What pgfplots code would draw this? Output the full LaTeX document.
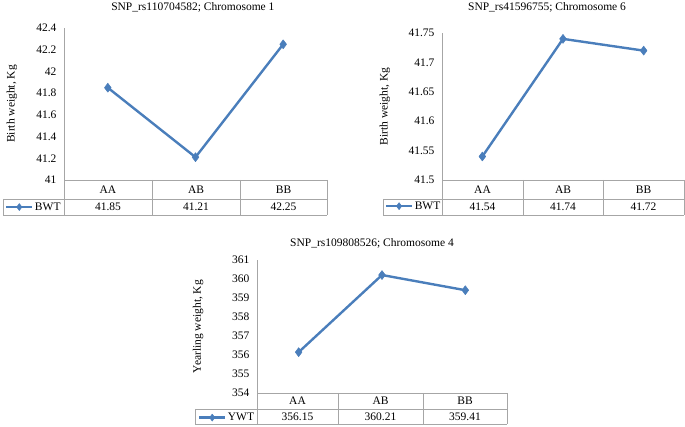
\documentclass[border=0pt]{standalone}
\usepackage{fontspec}
\setmainfont{Liberation Serif}
\usepackage{pgfplots}
\pgfplotsset{compat=1.18}
\definecolor{blueline}{RGB}{74,126,187}
\definecolor{gridc}{RGB}{166,166,166}
\newcommand{\fs}{\fontsize{11.5}{13}\selectfont}
\pgfplotsset{
  serstyle/.style={color=blueline, line width=2.4pt, line join=round,
      mark=diamond*, mark size=4.5pt, mark options={solid, fill=blueline, line width=0.5pt}},
  excel/.style={
    scale only axis, anchor=south west,
    xmin=0, xmax=3, xtick=\empty,
    axis x line=none, axis y line=left,
    axis line style={draw=gridc, line width=0.8pt, -},
    major tick length=0pt,
    ytick style={draw=none},
    tick label style={font=\fs},
    yticklabel style={xshift=-4pt},
    /pgf/number format/assume math mode=true,
    /pgf/number format/fixed,
    /pgf/number format/precision=2,
    label style={font=\fs},
    ylabel style={anchor=center, rotate=0},
    title style={font=\fs, anchor=center},
    clip=false,
    legend style={draw=none, fill=none, inner sep=0pt, outer sep=0pt, anchor=west, font=\fs,
      nodes={inner sep=1.5pt}},
    legend image code/.code={\draw[##1,mark repeat=2,mark phase=2,mark size=3.5pt] plot coordinates {(0pt,0pt) (13pt,0pt) (26pt,0pt)};},
  }
}
\begin{document}
\begin{tikzpicture}[x=1pt,y=1pt]
\useasboundingbox (0,0) rectangle (685,427);
% ---------- Chart 1 ----------
\begin{axis}[excel, at={(64pt,247pt)}, width=263pt, height=152pt,
  ymin=41, ymax=42.4, ytick={41,41.2,41.4,41.6,41.8,42,42.2,42.4},
  ylabel={Birth weight, Kg},
  ylabel style={at={(axis description cs:-0.198,0.5)}},
  title={SNP\_rs110704582; Chromosome 1},
  title style={at={(axis description cs:0.49,1)}, yshift=15pt},
  legend style={at={(axis description cs:-0.224,-0.178)}}]
\addplot[serstyle] coordinates {(0.5,41.85) (1.5,41.21) (2.5,42.25)};
\addlegendentry{BWT}
\end{axis}
\begin{scope}[draw=gridc, line width=0.8pt]
\draw (64,247) -- (327,247);
\draw (3,228) -- (327,228);
\draw (3,212) -- (327,212);
\draw (3,228) -- (3,212);
\draw (64,247) -- (64,212);
\draw (152,247) -- (152,212);
\draw (240,247) -- (240,212);
\draw (327,247) -- (327,212);
\end{scope}
\begin{scope}[every node/.style={font=\fs, inner sep=0pt}]
\node at (108,237.5) {AA};
\node at (196,237.5) {AB};
\node at (283.5,237.5) {BB};
\node at (108,220) {41.85};
\node at (196,220) {41.21};
\node at (283.5,220) {42.25};
\end{scope}
% ---------- Chart 2 ----------
\begin{axis}[excel, at={(442pt,247pt)}, width=242pt, height=147pt,
  ymin=41.5, ymax=41.75, ytick={41.5,41.55,41.6,41.65,41.7,41.75},
  ylabel={Birth weight, Kg},
  ylabel style={at={(axis description cs:-0.236,0.5)}},
  title={SNP\_rs41596755; Chromosome 6},
  title style={at={(axis description cs:0.434,1)}, yshift=20pt},
  legend style={at={(axis description cs:-0.236,-0.178)}}]
\addplot[serstyle] coordinates {(0.5,41.54) (1.5,41.74) (2.5,41.72)};
\addlegendentry{BWT}
\end{axis}
\begin{scope}[draw=gridc, line width=0.8pt]
\draw (442,247) -- (684,247);
\draw (383,228) -- (684,228);
\draw (383,212) -- (684,212);
\draw (383,228) -- (383,212);
\draw (442,247) -- (442,212);
\draw (523,247) -- (523,212);
\draw (603,247) -- (603,212);
\draw (684,247) -- (684,212);
\end{scope}
\begin{scope}[every node/.style={font=\fs, inner sep=0pt}]
\node at (482.5,237.5) {AA};
\node at (563,237.5) {AB};
\node at (643.5,237.5) {BB};
\node at (482.5,220) {41.54};
\node at (563,220) {41.74};
\node at (643.5,220) {41.72};
\end{scope}
% ---------- Chart 3 ----------
\begin{axis}[excel, at={(257pt,34pt)}, width=250pt, height=133pt,
  ymin=354, ymax=361, ytick={354,355,356,357,358,359,360,361},
  ylabel={Yearling weight, Kg},
  ylabel style={at={(axis description cs:-0.236,0.5)}},
  title={SNP\_rs109808526; Chromosome 4},
  title style={at={(axis description cs:0.46,1)}, yshift=11pt},
  legend style={at={(axis description cs:-0.236,-0.185)}}]
\addplot[serstyle] coordinates {(0.5,356.15) (1.5,360.21) (2.5,359.41)};
\addlegendentry{YWT}
\end{axis}
\begin{scope}[draw=gridc, line width=0.8pt]
\draw (257,34) -- (507,34);
\draw (195,18) -- (507,18);
\draw (195,3) -- (507,3);
\draw (195,18) -- (195,3);
\draw (257,34) -- (257,3);
\draw (338,34) -- (338,3);
\draw (423,34) -- (423,3);
\draw (507,34) -- (507,3);
\end{scope}
\begin{scope}[every node/.style={font=\fs, inner sep=0pt}]
\node at (297.5,26) {AA};
\node at (380.5,26) {AB};
\node at (465,26) {BB};
\node at (297.5,10.5) {356.15};
\node at (380.5,10.5) {360.21};
\node at (465,10.5) {359.41};
\end{scope}
\end{tikzpicture}
\end{document}
